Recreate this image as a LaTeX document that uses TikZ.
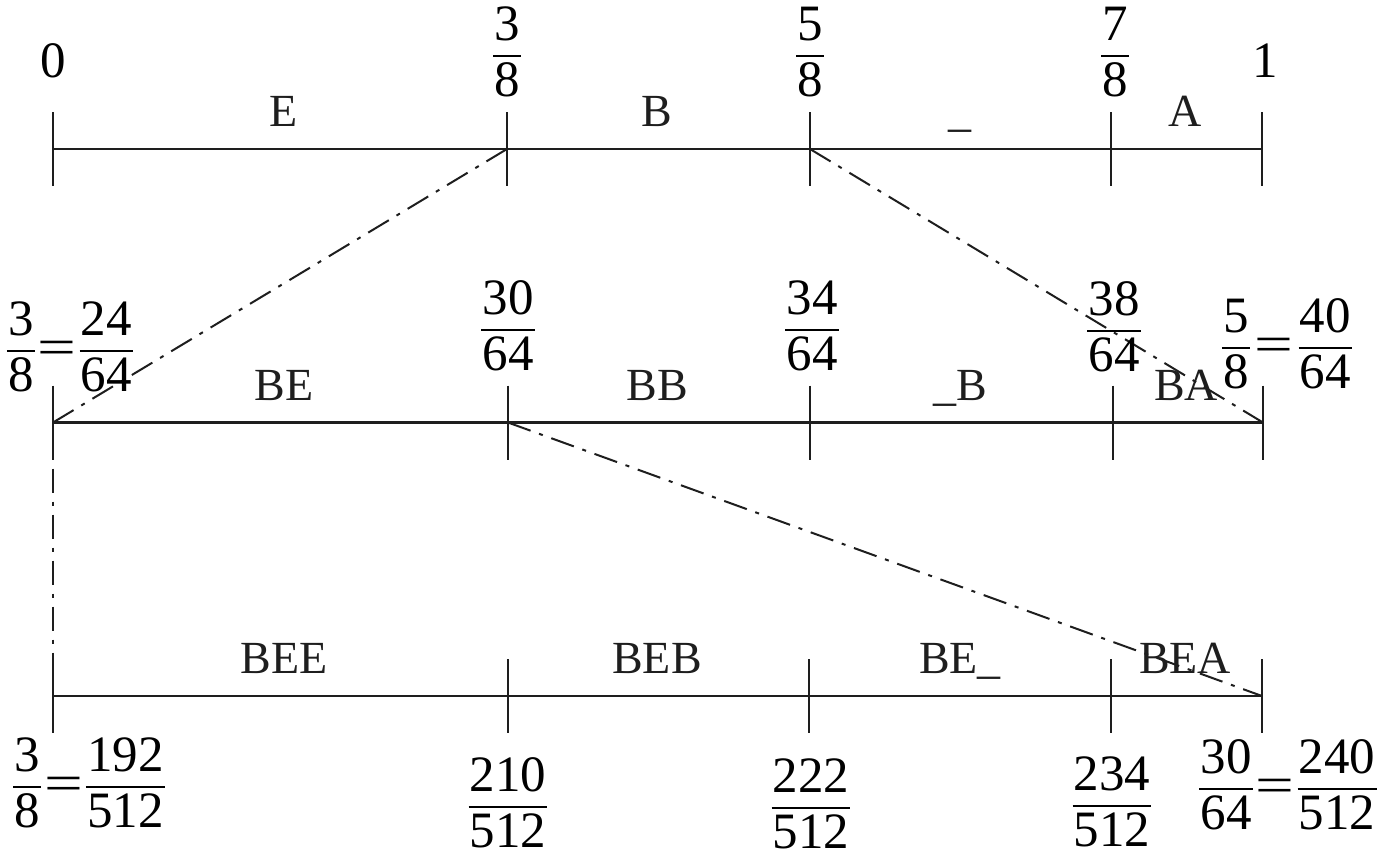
\documentclass[tikz,border=0pt]{standalone}
\usepackage{fontspec}
\setmainfont{Liberation Serif}
\newcommand\frc[2]{\vbox{\offinterlineskip\halign{\hfil\kern0.6pt##\kern0.6pt\hfil\cr #1\cr\noalign{\kern7pt\hrule height 1.1pt\kern2.6pt}#2\cr}}}
\newcommand\eqs{\kern1.5pt\raisebox{13.2pt}{\scalebox{1.35}[1]{=}}\kern1.5pt}
\definecolor{ink}{RGB}{30,30,30}
\tikzset{
  axisln/.style={line width=1.3pt, draw=ink},
  tickln/.style={line width=0.75pt, draw=ink},
  ddln/.style={line width=1pt, draw=ink, dash pattern=on 12pt off 4.5pt on 2pt off 4.5pt},
  num/.style={font=\fontsize{25.5}{30}\selectfont, inner sep=0pt, anchor=base, text=black},
  lab/.style={font=\fontsize{23}{28}\selectfont, inner sep=0pt, anchor=base, text=ink},
}
\begin{document}
\begin{tikzpicture}[x=0.5pt,y=-0.5pt]
\useasboundingbox (0,0) rectangle (1394,859);
% tick coordinates
\coordinate (t0) at (53,149);  \coordinate (t1) at (507,149); \coordinate (t2) at (810,149);
\coordinate (t3) at (1111,149); \coordinate (t4) at (1262,149);
\coordinate (m0) at (53,422.5);  \coordinate (m1) at (508,422.5); \coordinate (m2) at (810,422.5);
\coordinate (m3) at (1113,422.5); \coordinate (m4) at (1263,422.5);
\coordinate (b0) at (53,696);  \coordinate (b1) at (508,696); \coordinate (b2) at (809,696);
\coordinate (b3) at (1111,696); \coordinate (b4) at (1262,696);
% axes
\draw[axisln] (t0) -- (t4);
\draw[axisln] (m0) -- (m4);
\draw[axisln] (b0) -- (b4);
\foreach \c in {t0,t1,t2,t3,t4,m0,m1,m2,m3,m4,b0,b1,b2,b3,b4}
  \draw[tickln] ([yshift=18.5pt]\c) -- ([yshift=-18.5pt]\c);
% dash-dot connectors
\draw[ddln] (t1) -- (m0);
\draw[ddln] (t2) -- (m4);
\draw[ddln] (m0) -- (b0);
\draw[ddln] (m1) -- (b4);
% top numbers
\node[num] (n0) at (53,77) {0};
\node[num] (n1) at (507,96) {\frc{3}{8}};
\node[num] (n2) at (810,96) {\frc{5}{8}};
\node[num] (n3) at (1115,96) {\frc{7}{8}};
\node[num] (n4) at (1265,77) {1};
% top labels
\node[lab] (sE) at (284,126) {E};
\node[lab] (sB) at (657,126) {B};
\node[lab] (sU) at (960,126) {\_};
\node[lab] (sA) at (1185,126) {A};
% middle numbers
\node[num] (p0) at (70,391) {\frc{3}{8}\eqs\frc{24}{64}};
\node[num] (p1) at (508,370) {\frc{30}{64}};
\node[num] (p2) at (812,370) {\frc{34}{64}};
\node[num] (p3) at (1114,371) {\frc{38}{64}};
\node[num] (p4) at (1287,388) {\frc{5}{8}\kern1pt\eqs\kern1pt\frc{40}{64}};
% middle labels
\node[lab] (sBE) at (284,400) {BE};
\node[lab] (sBB) at (657,400) {BB};
\node[lab] (sUB) at (960,400) {\_B};
\node[lab] (sBA) at (1186,400) {BA};
% bottom numbers
\node[num] (q0) at (89,827) {\frc{3}{8}\eqs\frc{192}{512}};
\node[num] (q1) at (508,847) {\frc{210}{512}};
\node[num] (q2) at (811,848) {\frc{222}{512}};
\node[num] (q3) at (1112,846) {\frc{234}{512}};
\node[num] (q4) at (1288,829) {\frc{30}{64}\eqs\frc{240}{512}};
% bottom labels
\node[lab] (sBEE) at (284,673) {BEE};
\node[lab] (sBEB) at (657,673) {BEB};
\node[lab] (sBEU) at (960,673) {BE\_};
\node[lab] (sBEA) at (1185,673) {BEA};
\end{tikzpicture}
\end{document}
